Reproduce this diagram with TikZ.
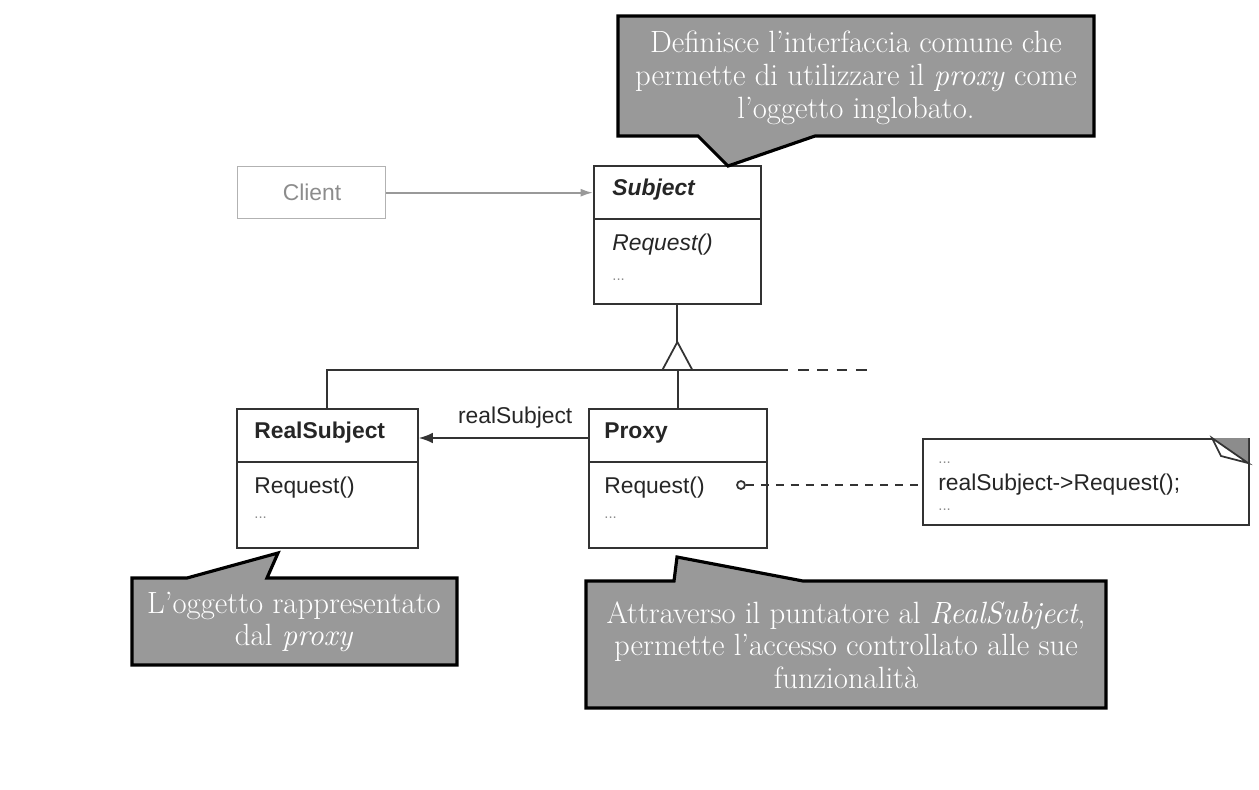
\documentclass[tikz,border=0pt]{standalone}
\usepackage{fontspec}
\newfontfamily\umlfont{Liberation Sans}
\usetikzlibrary{arrows.meta}

\begin{document}
\begin{tikzpicture}[x = 0.02cm, y = -0.02cm,
    umlbox/.style = {draw = black!80, line width = 1pt, anchor = north west, inner sep = 0pt},
    umlline/.style = {draw = black!80, line width = 1pt},
    umltext/.style = {font = \umlfont\fontsize{13}{15}\selectfont, anchor = west, inner sep = 0pt, text = black!85},
    umldots/.style = {font = \umlfont\fontsize{8.5}{8.5}\selectfont, anchor = west, inner sep = 0pt, text = black!45},
    callout/.style = {draw = black, fill = black!40, line width = 1.8pt, line join = miter},
    calltext/.style = {text = white, align = center, font = \fontsize{17.5}{18.6}\selectfont}]
    \useasboundingbox (0,0) rectangle (1259,789);
    % classes
    \node[umlbox, draw = black!30, line width = 0.8pt, minimum width = 2.96cm, minimum height = 1.04cm] (client) at (237,166) {};
    \node[umlbox, minimum width = 3.34cm, minimum height = 2.76cm] (subject) at (593,165) {};
    \node[umlbox, minimum width = 3.62cm, minimum height = 2.78cm] (realsubj) at (236,408) {};
    \node[umlbox, minimum width = 3.56cm, minimum height = 2.78cm] (proxy) at (588,408) {};
    \draw[umlline] ([yshift = -1.08cm]subject.north west) -- ([yshift = -1.08cm]subject.north east);
    \draw[umlline] ([yshift = -1.08cm]realsubj.north west) -- ([yshift = -1.08cm]realsubj.north east);
    \draw[umlline] ([yshift = -1.08cm]proxy.north west) -- ([yshift = -1.08cm]proxy.north east);
    \node[umltext, anchor = center, text = black!45] (clientname) at (312,192) {Client};
    \node[umltext] (subjname) at (612,190) {\bfseries\itshape Subject};
    \node[umltext] (subjop) at (612,245) {\itshape Request()};
    \node[umldots] (subjdots) at (612,280) {...};
    \node[umltext] (realname) at (254,433) {\bfseries RealSubject};
    \node[umltext] (realop) at (254,488) {Request()};
    \node[umldots] (realdots) at (254,518) {...};
    \node[umltext] (proxyname) at (604,433) {\bfseries Proxy};
    \node[umltext] (proxyop) at (604,488) {Request()};
    \node[umldots] (proxydots) at (604,518) {...};
    % note
    \node[umlbox, minimum width = 6.52cm, minimum height = 1.72cm] (note) at (922,438) {};
    \fill[black!45] (1212,438) -- (1248,438) -- (1248,463) -- cycle;
    \draw[umlline, fill = white] (1212,438) -- (1248,463) -- (1221,456) -- cycle;
    \node[umldots] (notedots1) at (938,463) {...};
    \node[umltext] (notecode) at (938,485) {realSubject->Request();};
    \node[umldots] (notedots2) at (938,510) {...};
    % connectors
    \draw[umlline, draw = black!40, -{Latex[length = 7pt, width = 4.5pt]}] (client.east) -- (client.east -| subject.west);
    \coordinate (apex) at (subject.south |- 0,342);
    \draw[umlline] (subject.south) -- (apex);
    \draw[umlline] (apex) -- ++(-15,28) -- ++(30,0) -- cycle;
    \draw[umlline] (realsubj.north) |- (788,370);
    \draw[umlline, dash pattern = on 6pt off 5pt] (798,370) -- (868,370);
    \draw[umlline] (proxy.north) -- (proxy.north |- 0,370);
    \draw[umlline, -{Latex[length = 8pt, width = 6pt]}] ([yshift = -0.6cm]proxy.north west) -- node[umltext, anchor = south, pos = 0.43, yshift = 5pt] (assoclabel) {realSubject} ([yshift = -0.6cm]realsubj.north east);
    \node[circle, umlline, inner sep = 0pt, minimum size = 0.16cm] (hook) at (741,485) {};
    \draw[umlline, dash pattern = on 4.5pt off 4pt] (hook.east) -- (hook.east -| note.west);
    % callouts
    \draw[callout] (618,16) -- (1094,16) -- (1094,136) -- (815,136) -- (728,166) -- (698,136) -- (618,136) -- cycle;
    \node[calltext] (subjnote) at (856,78) {Definisce l'interfaccia comune che\\ permette di utilizzare il \textit{proxy} come\\ l'oggetto inglobato.};
    \draw[callout] (132,578) -- (187,578) -- (278,553) -- (267,578) -- (457,578) -- (457,665) -- (132,665) -- cycle;
    \node[calltext] (realnote) at (294,622) {L'oggetto rappresentato\\ dal \textit{proxy}};
    \draw[callout] (586,581) -- (674,581) -- (677,557) -- (803,581) -- (1106,581) -- (1106,708) -- (586,708) -- cycle;
    \node[calltext] (proxynote) at (846,645) {Attraverso il puntatore al \textit{RealSubject},\\ permette l'accesso controllato alle sue\\ funzionalità};
\end{tikzpicture}
\end{document}
